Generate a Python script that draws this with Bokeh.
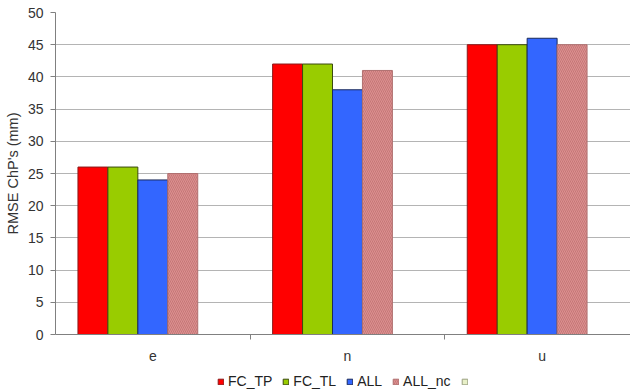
from bokeh.plotting import figure
from bokeh.layouts import column
from bokeh.models import ColumnDataSource, FixedTicker, Legend, LegendItem, Range1d
from bokeh.embed import file_html
from bokeh.resources import INLINE

# Components and RMSE of check points (mm) for each processing variant
components = ["e", "n", "u"]
fc_tp = [26, 42, 45]
fc_tl = [26, 42, 45]
all_pts = [24, 38, 46]
all_nc = [25, 41, 45]
series_names = ["FC_TP", "FC_TL", "ALL", "ALL_nc", " "]
y_ticks = [0, 5, 10, 15, 20, 25, 30, 35, 40, 45, 50]

FONT = "Liberation Sans"
TEXT = "#333333"

p = figure(width=630, height=366, output_backend="svg", toolbar_location=None,
           x_range=Range1d(0, 2.954), y_range=Range1d(0, 50),
           min_border_left=55, min_border_right=0, min_border_top=12,
           min_border_bottom=32)
p.outline_line_color = None
p.background_fill_color = "white"
p.border_fill_color = "white"

# five slots per category (the fifth series is empty), gap of 1.5 slots split on both sides
slot = 30 / 195
first = (22.5 + 15) / 195
xs = [i + 0.0 for i in range(len(components))]

styles = [
    dict(fill_color="#ff0000", line_color="#8b1a1a"),
    dict(fill_color="#99cc00", line_color="#3a4a10"),
    dict(fill_color="#3366ff", line_color="#1a2a5a"),
    dict(fill_color="#dc9090", line_color="#b07070", hatch_pattern="\\",
         hatch_color="#a85858", hatch_alpha=0.45, hatch_scale=4, hatch_weight=1),
    dict(fill_color="#e8f0c8", line_color="#9aa080"),
]
values = [fc_tp, fc_tl, all_pts, all_nc]

for k, vals in enumerate(values):
    src = ColumnDataSource(dict(x=[x + first + k * slot for x in xs], top=vals))
    p.vbar(x="x", top="top", bottom=0, width=slot, source=src, line_width=1, **styles[k])

# y axis
p.yaxis.ticker = FixedTicker(ticks=y_ticks)
p.yaxis.axis_label = "RMSE ChP's (mm)"
p.yaxis.axis_label_text_font = FONT
p.yaxis.axis_label_text_font_style = "normal"
p.yaxis.axis_label_text_font_size = "14.5px"
p.yaxis.axis_label_text_color = TEXT
p.yaxis.axis_label_standoff = 4
p.yaxis.major_label_text_font = FONT
p.yaxis.major_label_text_font_size = "14px"
p.yaxis.major_label_text_color = TEXT
p.yaxis.major_label_standoff = 7
p.yaxis.major_tick_out = 5
p.yaxis.major_tick_in = 0
p.yaxis.minor_tick_line_color = None
p.yaxis.axis_line_color = "#808080"
p.yaxis.major_tick_line_color = "#808080"

# x axis: labels at category centres, tick marks at category boundaries
p.xaxis.ticker = FixedTicker(ticks=[0.5, 1.5, 2.5], minor_ticks=[1, 2])
p.xaxis.major_label_overrides = {0.5: "e", 1.5: "n", 2.5: "u"}
p.xaxis.major_label_text_font = FONT
p.xaxis.major_label_text_font_size = "14px"
p.xaxis.major_label_text_color = TEXT
p.xaxis.major_label_standoff = 8
p.xaxis.major_tick_out = 0
p.xaxis.major_tick_in = 0
p.xaxis.minor_tick_out = 5
p.xaxis.minor_tick_in = 0
p.xaxis.minor_tick_line_color = "#808080"
p.xaxis.axis_line_color = "#808080"

p.xgrid.grid_line_color = None
p.ygrid.grid_line_color = "#b4b4b4"

# legend strip underneath the chart; its swatches reuse the bar styles
lf = figure(width=630, height=25, output_backend="svg", toolbar_location=None,
            x_range=Range1d(0, 1), y_range=Range1d(0, 1),
            x_axis_type=None, y_axis_type=None,
            min_border_left=0, min_border_right=0, min_border_top=0, min_border_bottom=0)
lf.outline_line_color = None
lf.xgrid.grid_line_color = None
lf.ygrid.grid_line_color = None

items = []
for k, name in enumerate(series_names):
    # a bar with no height (NaN) draws nothing but gives the swatch its style
    r = lf.vbar(x=[0.5], top=[float("nan")], bottom=[float("nan")], width=0.1,
                line_width=1, **styles[k])
    items.append(LegendItem(label=name, renderers=[r]))

# the column aligns this strip's frame with the chart frame (left edge at 55 px)
legend = Legend(items=items, orientation="horizontal", location=(162, 2),
                glyph_width=7, glyph_height=7, label_standoff=4, spacing=10,
                padding=2, margin=0, border_line_color=None,
                background_fill_alpha=0, label_text_font=FONT,
                label_text_font_size="14px", label_text_color="#222222",
                label_height=12)
lf.add_layout(legend, "center")

layout = column(p, lf, spacing=0)
open("out.html", "w").write(file_html(layout, INLINE))
